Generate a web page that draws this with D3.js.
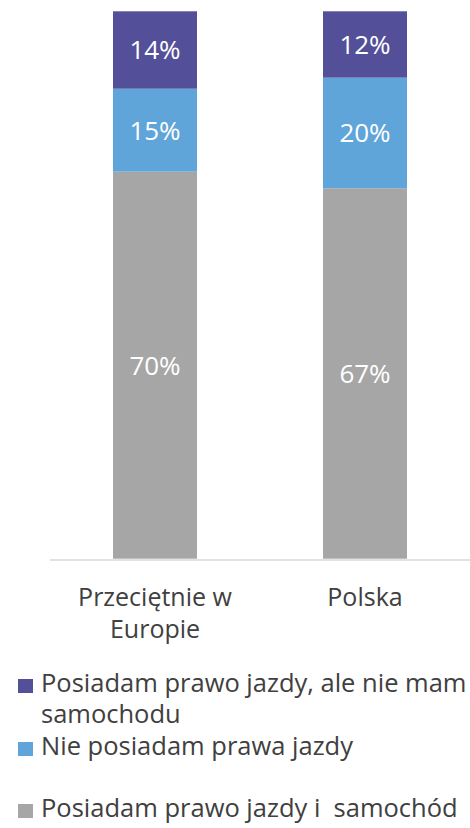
<!DOCTYPE html>
<html>
<head>
<meta charset="utf-8">
<script src="https://cdn.jsdelivr.net/npm/d3@7"></script>
<style>
  body { margin: 0; background: #fff; }
  svg { display: block; font-family: "Open Sans", sans-serif; }
</style>
</head>
<body>
<svg id="chart"></svg>
<script>
"use strict";

var width = 470;
var height = 828;

// data
var categories = [["Przeciętnie w", "Europie"], ["Polska"]];
var seriesNames = [
    "Posiadam prawo jazdy i  samochód",
    "Nie posiadam prawa jazdy",
    "Posiadam prawo jazdy, ale nie mam samochodu"
];
var ownCar = [70, 67];
var noLicence = [15, 20];
var licenceNoCar = [14, 12];
var colors = ["#a6a6a6", "#5fa5d9", "#534f99"];

var series = [ownCar, noLicence, licenceNoCar];

var svg = d3.select("#chart")
    .attr("width", width)
    .attr("height", height);

var x = d3.scaleBand()
    .domain(d3.range(categories.length))
    .range([50, 470])
    .paddingInner(0.6)
    .paddingOuter(0.3);
var y = d3.scaleLinear()
    .domain([0, 99])
    .range([558.7, 11.3]);

var rows = categories.map(function(c, i) {
    var r = {i: i};
    series.forEach(function(s, k) { r["s" + k] = s[i]; });
    return r;
});
var stacked = d3.stack().keys(["s0", "s1", "s2"])(rows);

// axis line
svg.append("line")
    .attr("x1", 50).attr("x2", 470)
    .attr("y1", 560).attr("y2", 560)
    .attr("stroke", "#d9d9d9")
    .attr("stroke-width", 1.5);

var layers = svg.selectAll(".layer")
    .data(stacked)
    .enter().append("g")
    .attr("class", "layer")
    .attr("fill", function(d, k) { return colors[k]; });

layers.selectAll("rect")
    .data(function(d) { return d; })
    .enter().append("rect")
    .attr("x", function(d) { return x(d.data.i); })
    .attr("width", x.bandwidth())
    .attr("y", function(d) { return y(d[1]); })
    .attr("height", function(d) { return y(d[0]) - y(d[1]); });

layers.selectAll("text")
    .data(function(d) { return d; })
    .enter().append("text")
    .attr("x", function(d) { return x(d.data.i) + x.bandwidth() / 2; })
    .attr("y", function(d) { return (y(d[0]) + y(d[1])) / 2; })
    .attr("dy", "0.36em")
    .attr("text-anchor", "middle")
    .attr("fill", "#fff")
    .style("font-size", "26px")
    .text(function(d) { return (d[1] - d[0]) + "%"; });

// category labels
var catLabels = svg.selectAll(".cat")
    .data(categories)
    .enter().append("text")
    .attr("class", "cat")
    .attr("text-anchor", "middle")
    .attr("fill", "#404040")
    .style("font-size", "25px")
    .attr("transform", function(d, i) { return "translate(" + (x(i) + x.bandwidth() / 2) + ",606)"; });
catLabels.selectAll("tspan")
    .data(function(d) { return d; })
    .enter().append("tspan")
    .attr("x", 0)
    .attr("y", function(d, j) { return j * 32; })
    .text(function(d) { return d; });

// legend (top to bottom: purple, blue, gray)
var legendItems = [
    {k: 2, lines: ["Posiadam prawo jazdy, ale nie mam", "samochodu"], y: 692},
    {k: 1, lines: ["Nie posiadam prawa jazdy"], y: 755},
    {k: 0, lines: ["Posiadam prawo jazdy i  samochód"], y: 817}
];
var leg = svg.selectAll(".leg")
    .data(legendItems)
    .enter().append("g")
    .attr("class", "leg")
    .attr("transform", function(d) { return "translate(0," + d.y + ")"; });
leg.append("rect")
    .attr("x", 18).attr("y", -13)
    .attr("width", 15).attr("height", 14)
    .attr("fill", function(d) { return colors[d.k]; });
leg.append("text")
    .attr("fill", "#404040")
    .style("font-size", "25.5px")
    .style("white-space", "pre")
    .attr("xml:space", "preserve")
    .selectAll("tspan")
    .data(function(d) { return d.lines; })
    .enter().append("tspan")
    .attr("x", 41)
    .attr("y", function(d, j) { return j * 31; })
    .text(function(d) { return d; });
</script>
</body>
</html>
